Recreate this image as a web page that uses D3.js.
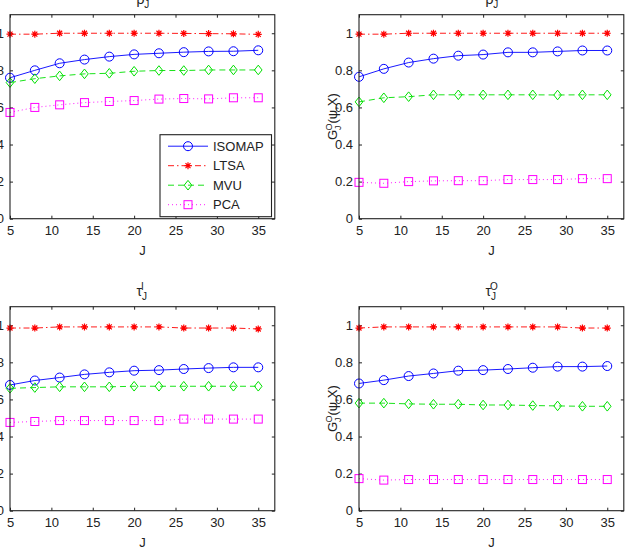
<!DOCTYPE html>
<html>
<head>
<meta charset="utf-8">
<script src="https://cdn.jsdelivr.net/npm/d3@7"></script>
<style>
body { margin: 0; background: #fff; }
svg { display: block; }
text { font-family: "Liberation Sans", Arial, sans-serif; fill: #222; }
</style>
</head>
<body>
<svg id="chart" width="632" height="552"></svg>
<script>
// neighbourhood sizes J
var jValues = [5, 8, 11, 14, 17, 20, 23, 26, 29, 32, 35];
var xTicks = [5, 10, 15, 20, 25, 30, 35];
var yTicks = [0, 0.2, 0.4, 0.6, 0.8, 1];
var methods = ["ISOMAP", "LTSA", "MVU", "PCA"];

// rho_J^I (top left)
var rhoI_isomap = [0.76, 0.80, 0.838, 0.858, 0.874, 0.886, 0.892, 0.898, 0.902, 0.903, 0.908];
var rhoI_ltsa   = [0.995, 0.995, 1.0, 1.0, 1.0, 1.0, 1.0, 0.999, 0.998, 0.997, 0.994];
var rhoI_mvu    = [0.734, 0.755, 0.77, 0.781, 0.784, 0.795, 0.799, 0.799, 0.802, 0.802, 0.802];
var rhoI_pca    = [0.573, 0.60, 0.614, 0.626, 0.632, 0.637, 0.645, 0.648, 0.646, 0.652, 0.652];

// rho_J^O (top right)
var rhoO_isomap = [0.765, 0.808, 0.842, 0.863, 0.879, 0.885, 0.897, 0.897, 0.902, 0.907, 0.907];
var rhoO_ltsa   = [0.995, 0.995, 1.0, 1.0, 1.0, 1.0, 1.0, 1.0, 1.0, 1.0, 1.0];
var rhoO_mvu    = [0.63, 0.652, 0.658, 0.668, 0.668, 0.668, 0.668, 0.668, 0.667, 0.668, 0.668];
var rhoO_pca    = [0.196, 0.191, 0.20, 0.204, 0.205, 0.205, 0.211, 0.211, 0.211, 0.216, 0.216];

// tau_J^I (bottom left)
var tauI_isomap = [0.678, 0.702, 0.718, 0.735, 0.746, 0.755, 0.758, 0.764, 0.769, 0.773, 0.773];
var tauI_ltsa   = [0.985, 0.985, 0.991, 0.991, 0.991, 0.991, 0.991, 0.985, 0.985, 0.985, 0.98];
var tauI_mvu    = [0.66, 0.664, 0.668, 0.668, 0.668, 0.671, 0.671, 0.671, 0.671, 0.671, 0.671];
var tauI_pca    = [0.476, 0.481, 0.486, 0.486, 0.486, 0.486, 0.486, 0.494, 0.494, 0.494, 0.494];

// tau_J^O (bottom right)
var tauO_isomap = [0.686, 0.704, 0.726, 0.74, 0.755, 0.758, 0.764, 0.771, 0.777, 0.777, 0.78];
var tauO_ltsa   = [0.985, 0.991, 0.991, 0.991, 0.991, 0.991, 0.991, 0.991, 0.991, 0.985, 0.985];
var tauO_mvu    = [0.58, 0.58, 0.576, 0.574, 0.574, 0.57, 0.57, 0.567, 0.565, 0.563, 0.563];
var tauO_pca    = [0.173, 0.165, 0.168, 0.168, 0.168, 0.168, 0.168, 0.168, 0.168, 0.168, 0.168];

var styles = {
	ISOMAP: {color: "#0000ff", dash: null, marker: "circle"},
	LTSA:   {color: "#ff0000", dash: "6,3,1.5,3", marker: "star"},
	MVU:    {color: "#00e000", dash: "6,4", marker: "diamond"},
	PCA:    {color: "#ff00ff", dash: "1,3", marker: "square"}
};

var panels = [
	{left: 10,  top: 14.7,  title: "ρ", sup: "I", ylabel: false, legend: true,
	 series: [rhoI_isomap, rhoI_ltsa, rhoI_mvu, rhoI_pca]},
	{left: 359, top: 14.7,  title: "ρ", sup: "O", ylabel: true, legend: false,
	 series: [rhoO_isomap, rhoO_ltsa, rhoO_mvu, rhoO_pca]},
	{left: 10,  top: 306.7, title: "τ", sup: "I", ylabel: false, legend: false,
	 series: [tauI_isomap, tauI_ltsa, tauI_mvu, tauI_pca]},
	{left: 359, top: 306.7, title: "τ", sup: "O", ylabel: true, legend: false,
	 series: [tauO_isomap, tauO_ltsa, tauO_mvu, tauO_pca]}
];

var pw = 264.8, ph = 204;
var svg = d3.select("#chart");

function drawMarker(g, type, color) {
	if (type == "circle") {
		g.append("circle").attr("r", 4.5).attr("fill", "none").attr("stroke", color);
	} else if (type == "square") {
		g.append("rect").attr("x", -4).attr("y", -4).attr("width", 8).attr("height", 8)
			.attr("fill", "none").attr("stroke", color);
	} else if (type == "diamond") {
		g.append("path").attr("d", "M0,-4.8L3.8,0L0,4.8L-3.8,0Z")
			.attr("fill", "none").attr("stroke", color);
	} else {
		g.append("path").attr("d", "M-3.5,0H3.5M0,-3.5V3.5M-2.5,-2.5L2.5,2.5M-2.5,2.5L2.5,-2.5")
			.attr("stroke", color).attr("stroke-width", 1.2);
	}
}

panels.forEach(function(p) {
	var x = d3.scaleLinear().domain([5, 37]).range([0, pw]);
	var y = d3.scaleLinear().domain([0, 1.1]).range([ph, 0]);
	var g = svg.append("g").attr("transform", "translate(" + p.left + "," + p.top + ")");

	// ticks all four sides, pointing in
	var axB = g.append("g").attr("transform", "translate(0," + ph + ")")
		.call(d3.axisBottom(x).tickValues(xTicks).tickSizeInner(-3).tickSizeOuter(0).tickPadding(7));
	var axT = g.append("g")
		.call(d3.axisTop(x).tickValues(xTicks).tickSizeInner(-3).tickSizeOuter(0).tickFormat(""));
	var axL = g.append("g")
		.call(d3.axisLeft(y).tickValues(yTicks).tickSizeInner(-3).tickSizeOuter(0).tickPadding(6)
			.tickFormat(function(d) { return d3.format("~g")(d); }));
	var axR = g.append("g").attr("transform", "translate(" + pw + ",0)")
		.call(d3.axisRight(y).tickValues(yTicks).tickSizeInner(-3).tickSizeOuter(0).tickFormat(""));
	[axB, axT, axL, axR].forEach(function(a) {
		a.select(".domain").remove();
		a.selectAll("line").attr("stroke", "#222");
		a.selectAll("text").attr("font-size", "13px").attr("fill", "#222")
			.style("font-family", "'Liberation Sans', Arial, sans-serif");
	});

	var line = d3.line().x(function(d, i) { return x(jValues[i]); }).y(function(d) { return y(d); });

	p.series.forEach(function(vals, k) {
		var st = styles[methods[k]];
		g.append("path").datum(vals).attr("d", line)
			.attr("fill", "none").attr("stroke", st.color).attr("stroke-width", 0.9)
			.attr("stroke-dasharray", st.dash);
		g.selectAll(".m" + k).data(vals).enter().append("g")
			.attr("class", "m" + k)
			.attr("transform", function(d, i) { return "translate(" + x(jValues[i]) + "," + y(d) + ")"; })
			.each(function() { drawMarker(d3.select(this), st.marker, st.color); });
	});

	g.append("rect").attr("width", pw).attr("height", ph)
		.attr("fill", "none").attr("stroke", "#222").attr("stroke-width", 1.1);

	// x label
	g.append("text").attr("x", pw / 2).attr("y", ph + 36)
		.attr("text-anchor", "middle").attr("font-size", "13px").text("J");

	// title
	var t = g.append("text").attr("x", pw / 2 - 6).attr("y", -10.5).attr("font-size", "14px");
	t.append("tspan").text(p.title);
	t.append("tspan").attr("font-size", "10px").attr("dy", 4).text("J");
	t.append("tspan").attr("font-size", "10px").attr("dx", -6).attr("dy", -10).text(p.sup);

	if (p.ylabel) {
		var yl = g.append("text")
			.attr("transform", "translate(-22," + (ph / 2) + ") rotate(-90)")
			.attr("text-anchor", "middle").attr("font-size", "13px");
		yl.append("tspan").text("G");
		yl.append("tspan").attr("font-size", "9px").attr("dy", 4).text("J");
		yl.append("tspan").attr("font-size", "9px").attr("dx", -5).attr("dy", -9).text("O");
		yl.append("tspan").attr("dy", 5).text("(ψ,X)");
	}

	if (p.legend) {
		var lg = g.append("g").attr("transform", "translate(150,120)");
		lg.append("rect").attr("width", 111.5).attr("height", 82)
			.attr("fill", "#fff").attr("stroke", "#222").attr("stroke-width", 1.1);
		methods.forEach(function(m, k) {
			var st = styles[m];
			var ly = 11.5 + k * 19.5;
			lg.append("line").attr("x1", 8).attr("x2", 48).attr("y1", ly).attr("y2", ly)
				.attr("stroke", st.color).attr("stroke-width", 0.9).attr("stroke-dasharray", st.dash);
			var mk = lg.append("g").attr("transform", "translate(28," + ly + ")");
			drawMarker(mk, st.marker, st.color);
			lg.append("text").attr("x", 53).attr("y", ly).attr("dy", "0.36em")
				.attr("font-size", "13px").text(m);
		});
	}
});
</script>
</body>
</html>
